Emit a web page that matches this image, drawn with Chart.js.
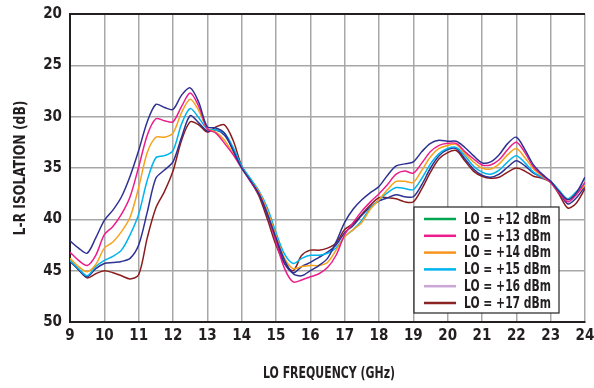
<!DOCTYPE html>
<html>
<head>
<meta charset="utf-8">
<script src="https://cdn.jsdelivr.net/npm/chart.js@4"></script>
<style>
  html, body { margin: 0; padding: 0; background: #fff; }
  #wrap { width: 594px; height: 388px; }
</style>
</head>
<body>
<div id="wrap"><canvas id="isoChart" width="594" height="388"></canvas></div>
<script>
const FONT = '"Liberation Sans Narrow", "DejaVu Sans Condensed", sans-serif';

const freqGHz = [9, 9.25, 9.5, 9.75, 10, 10.25, 10.5, 10.75, 11, 11.25, 11.5, 11.75, 12, 12.25, 12.5, 12.75,
  13, 13.25, 13.5, 13.75, 14, 14.25, 14.5, 14.75, 15, 15.25, 15.5, 15.75, 16, 16.25, 16.5, 16.75,
  17, 17.25, 17.5, 17.75, 18, 18.25, 18.5, 18.75, 19, 19.25, 19.5, 19.75, 20, 20.25, 20.5, 20.75,
  21, 21.25, 21.5, 21.75, 22, 22.25, 22.5, 22.75, 23, 23.25, 23.5, 23.75, 24];

const lo12 = [42.1, 42.8, 43.3, 41.8, 40.1, 39.1, 37.8, 35.8, 33.3, 30.5, 28.8, 29.1, 29.3, 27.9, 27.2, 28.6,
  31.0, 31.1, 31.6, 33.3, 35.0, 36.2, 37.5, 39.5, 41.8, 44.0, 45.3, 45.5, 45.0, 44.5, 43.8, 42.2,
  40.3, 39.0, 38.1, 37.4, 36.8, 35.7, 34.8, 34.6, 34.4, 33.4, 32.6, 32.3, 32.4, 32.4, 33.0, 33.8,
  34.5, 34.4, 33.7, 32.6, 32.0, 33.2, 34.7, 35.6, 36.3, 37.3, 38.1, 37.4, 35.9];
const lo13 = [43.2, 44.0, 44.5, 43.5, 41.5, 40.7, 39.5, 37.8, 34.9, 31.8, 30.2, 30.4, 30.5, 29.0, 27.7, 29.0,
  31.2, 31.6, 32.6, 33.7, 35.0, 36.3, 37.5, 39.5, 42.2, 44.8, 46.1, 45.9, 45.6, 45.3, 44.7, 43.5,
  41.5, 40.3, 39.2, 38.3, 37.5, 36.6, 35.6, 35.3, 35.5, 34.5, 33.4, 32.8, 32.6, 32.6, 33.4, 34.1,
  34.7, 34.7, 34.2, 33.2, 32.5, 33.5, 34.9, 35.7, 36.4, 37.4, 38.3, 37.6, 36.4];
const lo14 = [43.8, 44.6, 45.1, 44.4, 42.8, 42.2, 41.2, 39.8, 36.9, 33.5, 32.0, 32.0, 31.6, 29.6, 28.3, 29.4,
  31.2, 31.5, 32.3, 33.6, 35.0, 36.2, 37.3, 39.2, 41.6, 43.8, 44.8, 44.6, 44.5, 44.5, 44.2, 43.0,
  41.7, 41.0, 40.3, 39.0, 38.1, 37.1, 36.3, 36.3, 36.4, 35.2, 33.9, 33.1, 32.8, 32.7, 33.6, 34.4,
  35.0, 35.1, 34.6, 33.7, 33.1, 34.0, 35.1, 35.8, 36.4, 37.4, 38.1, 37.5, 36.7];
const lo15 = [44.0, 44.8, 45.5, 44.6, 44.0, 43.6, 43.0, 41.5, 39.5, 36.2, 34.0, 33.8, 33.3, 30.7, 29.2, 30.1,
  31.2, 31.3, 31.6, 33.0, 34.8, 36.0, 37.2, 38.9, 41.3, 43.4, 44.3, 43.8, 43.5, 43.5, 43.3, 42.8,
  41.7, 41.0, 40.1, 38.9, 38.1, 37.4, 36.9, 37.0, 37.1, 36.0, 34.6, 33.6, 33.1, 33.0, 33.8, 34.8,
  35.4, 35.6, 35.2, 34.4, 33.8, 34.5, 35.4, 35.9, 36.3, 37.2, 38.0, 37.3, 36.5];
const lo16 = [44.1, 44.9, 45.6, 44.8, 44.3, 44.2, 44.1, 43.8, 42.5, 39.3, 36.0, 35.2, 34.4, 32.0, 29.9, 30.6,
  31.4, 31.3, 31.8, 33.2, 34.9, 36.2, 37.5, 39.6, 42.0, 44.3, 45.2, 44.6, 44.2, 43.7, 43.2, 42.5,
  41.3, 40.6, 39.6, 38.8, 38.2, 37.9, 37.6, 37.8, 37.8, 36.6, 35.0, 33.8, 33.2, 33.1, 34.1, 35.1,
  35.7, 35.9, 35.6, 34.9, 34.3, 34.8, 35.5, 35.9, 36.3, 37.4, 38.5, 37.9, 36.8];
const lo17 = [44.0, 44.9, 45.7, 45.3, 45.0, 45.2, 45.5, 45.8, 45.4, 41.8, 38.9, 37.3, 35.3, 32.3, 30.5, 30.8,
  31.5, 31.0, 30.8, 32.3, 34.8, 36.2, 37.7, 40.0, 42.5, 44.3, 45.0, 43.5, 43.0, 43.0, 42.8, 42.3,
  41.0, 40.4, 39.5, 38.6, 37.9, 37.9, 38.0, 38.3, 38.3, 37.0, 35.4, 34.1, 33.5, 33.3, 34.3, 35.3,
  35.8, 36.0, 35.9, 35.4, 35.0, 35.3, 35.8, 36.0, 36.4, 37.6, 38.9, 38.4, 37.0];

const seriesLabels = ['LO = +12 dBm', 'LO = +13 dBm', 'LO = +14 dBm', 'LO = +15 dBm', 'LO = +16 dBm', 'LO = +17 dBm'];
const seriesValues = [lo12, lo13, lo14, lo15, lo16, lo17];
const lineColors = ['#2e3192', '#ec1c8c', '#f7a21b', '#00b4ee', '#2e3192', '#8b1c1c'];
const legendColors = ['#00a651', '#ec1c8c', '#f7941d', '#00b4ee', '#c9a6d6', '#8b2323'];

const xTicks = [9, 10, 11, 12, 13, 14, 15, 16, 17, 18, 19, 20, 21, 22, 23, 24];
const yTicks = [20, 25, 30, 35, 40, 45, 50];
const xTitle = 'LO FREQUENCY (GHz)';
const yTitle = 'L-R ISOLATION (dB)';

// condensed text helper: squeeze a string to a target width
function squeezeText(ctx, text, x, y, maxW) {
  const w = ctx.measureText(text).width;
  const k = Math.min(1, maxW / w);
  ctx.save();
  ctx.translate(x, y);
  ctx.scale(k, 1);
  ctx.fillText(text, 0, 0);
  ctx.restore();
}

// legend inside the plot (lower right) plus the axis titles
const decorations = {
  id: 'decorations',
  afterDraw(chart) {
    const ctx = chart.ctx;
    const area = chart.chartArea;
    const boxW = 145, boxH = 106;
    const bx = area.right - 26 - boxW;
    const by = area.bottom - 9 - boxH;
    ctx.save();
    ctx.fillStyle = '#fff';
    ctx.fillRect(bx, by, boxW, boxH);
    ctx.strokeStyle = '#222';
    ctx.lineWidth = 1.2;
    ctx.strokeRect(bx, by, boxW, boxH);
    ctx.font = 'bold 15px ' + FONT;
    ctx.textBaseline = 'middle';
    ctx.textAlign = 'left';
    seriesLabels.forEach((lab, i) => {
      const ry = by + 12 + i * 16.8;
      ctx.strokeStyle = legendColors[i];
      ctx.lineWidth = 2.5;
      ctx.beginPath();
      ctx.moveTo(bx + 10, ry);
      ctx.lineTo(bx + 42, ry);
      ctx.stroke();
      ctx.fillStyle = '#231f20';
      squeezeText(ctx, lab, bx + 50, ry + 1, 87);
    });

    ctx.font = 'bold 15px ' + FONT;
    ctx.fillStyle = '#231f20';
    ctx.textBaseline = 'middle';
    squeezeText(ctx, xTitle, 263, 374, 132);

    ctx.save();
    ctx.translate(21, 168);
    ctx.rotate(-Math.PI / 2);
    const yw = Math.min(135, ctx.measureText(yTitle).width);
    squeezeText(ctx, yTitle, -yw / 2, 0, 135);
    ctx.restore();
    ctx.restore();
  }
};

const datasets = seriesValues.map((vals, i) => ({
  label: seriesLabels[i],
  data: freqGHz.map((f, j) => ({ x: f, y: vals[j] })),
  borderColor: lineColors[i],
  backgroundColor: lineColors[i],
  borderWidth: 1.5,
  pointRadius: 0,
  tension: 0.3,
  fill: false
}));

new Chart(document.getElementById('isoChart'), {
  type: 'line',
  data: { datasets },
  options: {
    responsive: false,
    animation: false,
    layout: { padding: { left: 0, top: 14, right: 9, bottom: 0 } },
    plugins: { legend: { display: false }, tooltip: { enabled: false } },
    scales: {
      x: {
        type: 'linear',
        min: 9, max: 24,
        afterBuildTicks: s => { s.ticks = xTicks.map(v => ({ value: v })); },
        afterFit: s => { s.height = 66; s.paddingLeft = 0; s.paddingRight = 0; },
        ticks: { color: '#231f20', font: { family: FONT, size: 15, weight: 'bold' }, padding: 5, maxRotation: 0 },
        grid: { color: '#a7a7a7', lineWidth: 1.5, drawTicks: false },
        border: { color: '#231f20', width: 2 }
      },
      y: {
        min: 20, max: 50,
        reverse: true,
        afterBuildTicks: s => { s.ticks = yTicks.map(v => ({ value: v })); },
        afterFit: s => { s.width = 70; s.paddingTop = 0; s.paddingBottom = 0; },
        ticks: { color: '#231f20', font: { family: FONT, size: 15, weight: 'bold' }, padding: 8 },
        grid: {
          color: c => (c.tick && c.tick.value === 20) ? '#231f20' : '#a7a7a7',
          lineWidth: c => (c.tick && c.tick.value === 20) ? 2 : 1.5,
          drawTicks: false
        },
        border: { color: '#231f20', width: 2 }
      }
    }
  },
  plugins: [decorations]
});
</script>
</body>
</html>
